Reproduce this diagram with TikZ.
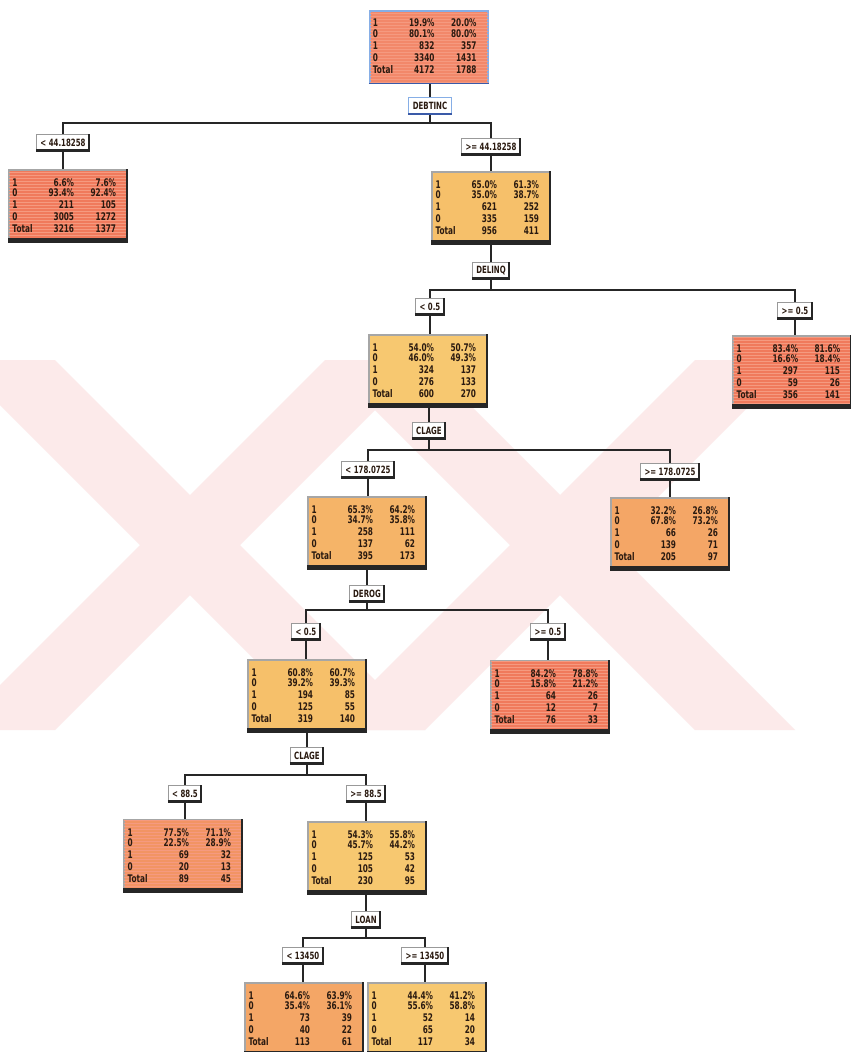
\documentclass[tikz,border=0pt]{standalone}
\usepackage{fontspec}
\newfontfamily\pix[FakeStretch=0.7]{DejaVu Sans}
\usetikzlibrary{patterns,calc}

\definecolor{ink}{HTML}{2A1A10}
\definecolor{wm}{HTML}{FCEAEA}
\definecolor{cRed}{HTML}{F07A5C}
\definecolor{cRedL}{HTML}{F59A80}
\definecolor{cSalmon}{HTML}{F2886A}
\definecolor{cOrRed}{HTML}{F29464}
\definecolor{cOrange}{HTML}{F4A666}
\definecolor{cAmber}{HTML}{F5B468}
\definecolor{cGold}{HTML}{F6C06A}
\definecolor{cYellow}{HTML}{F7C870}
\definecolor{frameBlue}{HTML}{86AEE6}
\definecolor{deepBlue}{HTML}{3A5AA8}

\tikzset{
  databox/.style={draw=black!35, line width=1.4pt, minimum width=118pt,
    minimum height=72pt, inner sep=0pt},
  striped/.style={postaction={pattern=horizontal lines, pattern color=cRedL}},
  splitlbl/.style={draw=black!40, fill=white, line width=0.8pt, inner xsep=4pt,
    inner ysep=0pt, minimum height=17pt, font=\pix\bfseries\fontsize{10}{11}\selectfont,
    text=ink},
  cell/.style={inner sep=0pt, font=\pix\bfseries\fontsize{10.5}{11}\selectfont, text=ink},
  conn/.style={draw=black!85, line width=2.4pt},
  boxshadow/.style={draw=black!85},
}

% one text row of a data box: node, tag, baseline depth, label, value 1, value 2
\newcommand\cellrow[6]{%
  \node[cell, anchor=base west] (#1-#2l) at ([xshift=4pt,yshift=-#3pt]#1.north west) {#4};
  \node[cell, anchor=base east] (#1-#2a) at ([xshift=66pt,yshift=-#3pt]#1.north west) {#5};
  \node[cell, anchor=base east] (#1-#2b) at ([xshift=108pt,yshift=-#3pt]#1.north west) {#6};}
\newcommand\pctrows[5]{%
  \cellrow{#1}{r1}{17}{1}{#2\%}{#3\%}%
  \cellrow{#1}{r2}{27.5}{0}{#4\%}{#5\%}}
\newcommand\cntrows[7]{%
  \cellrow{#1}{r3}{39.5}{1}{#2}{#3}%
  \cellrow{#1}{r4}{51.5}{0}{#4}{#5}%
  \cellrow{#1}{r5}{63.5}{Total}{#6}{#7}}
% bevel shadow along the bottom and right edge of a node
\newcommand\bevel[3]{%
  \draw[boxshadow, line width=#2] ([yshift=#2/2]#1.south west) -- ([yshift=#2/2]#1.south east);
  \draw[boxshadow, line width=#3] ([xshift=-#3/2]#1.south east) -- ([xshift=-#3/2]#1.north east);}

\begin{document}
\begin{tikzpicture}[x=1pt,y=-1pt]
\useasboundingbox (0,0) rectangle (851,1052);
\fill[white] (0,0) rectangle (851,1052);

% faint background watermark bands
\begin{scope}
  \clip (0,360) rectangle (851,732);
  \fill[wm] (-45,360) -- (55,360) -- (425,730) -- (325,730) -- cycle;
  \fill[wm] (325,360) -- (425,360) -- (55,730) -- (-45,730) -- cycle;
  \fill[wm] (325,360) -- (425,360) -- (795,730) -- (695,730) -- cycle;
  \fill[wm] (695,360) -- (795,360) -- (425,730) -- (325,730) -- cycle;
\end{scope}

% bar levels of the split connectors
\coordinate (bar1) at (0,123);
\coordinate (bar2) at (0,290);
\coordinate (bar3) at (0,450);
\coordinate (bar4) at (0,610);
\coordinate (bar5) at (0,775);
\coordinate (bar6) at (0,938);

% data boxes
\node[databox, draw=frameBlue, line width=2.5pt, fill=cSalmon, striped] (root) at (429,47) {};
\node[databox, fill=cRed, striped] (l1) at (68,206) {};
\node[databox, fill=cGold] (r1) at (491,208) {};
\node[databox, fill=cYellow] (d1) at (428,371) {};
\node[databox, fill=cRed, striped] (d2) at (792,372) {};
\node[databox, fill=cAmber] (c1) at (367,533) {};
\node[databox, fill=cOrange] (c2) at (670,534) {};
\node[databox, fill=cGold] (g1) at (307,696) {};
\node[databox, fill=cRed, striped] (g2) at (550,697) {};
\node[databox, fill=cOrRed, striped] (h1) at (183,856) {};
\node[databox, fill=cYellow] (h2) at (367,858) {};
\node[databox, fill=cOrange] (k1) at (304,1019) {};
\node[databox, fill=cYellow] (k2) at (427,1019) {};

% split labels
\node[splitlbl, draw=frameBlue, line width=1.2pt] (sDebt) at (430,106) {DEBTINC};
\node[splitlbl] (lDebtA) at (63,143) {< 44.18258};
\node[splitlbl] (lDebtB) at (491,147) {>= 44.18258};
\node[splitlbl] (sDel) at (491,271) {DELINQ};
\node[splitlbl] (lDelA) at (430,307) {< 0.5};
\node[splitlbl] (lDelB) at (795,311) {>= 0.5};
\node[splitlbl] (sClage) at (429,431) {CLAGE};
\node[splitlbl] (lClA) at (368,470) {< 178.0725};
\node[splitlbl] (lClB) at (670,472) {>= 178.0725};
\node[splitlbl] (sDerog) at (367,594) {DEROG};
\node[splitlbl] (lDerA) at (306,632) {< 0.5};
\node[splitlbl] (lDerB) at (548,632) {>= 0.5};
\node[splitlbl] (sClage2) at (307,756) {CLAGE};
\node[splitlbl] (lCl2A) at (185,794) {< 88.5};
\node[splitlbl] (lCl2B) at (366,794) {>= 88.5};
\node[splitlbl] (sLoan) at (366,920) {LOAN};
\node[splitlbl] (lLoanA) at (303,956) {< 13450};
\node[splitlbl] (lLoanB) at (425,956) {>= 13450};

% bevel shadows
\draw[deepBlue, line width=1.2pt] ([yshift=0.6pt]root.south west) -- ([yshift=0.6pt]root.south east);
\foreach \n in {l1,r1,d1,d2,c1,c2,g1,g2,h1,h2,k1,k2} {\bevel{\n}{4.5pt}{2pt}}
\draw[deepBlue, line width=2pt] ([yshift=1pt]sDebt.south west) -- ([yshift=1pt]sDebt.south east);
\foreach \n in {lDebtA,lDebtB,sDel,lDelA,lDelB,sClage,lClA,lClB,sDerog,lDerA,lDerB,
  sClage2,lCl2A,lCl2B,sLoan,lLoanA,lLoanB} {\bevel{\n}{2.6pt}{1.8pt}}

% connectors
\draw[conn] (sDebt.north |- root.south) -- (sDebt.north);
\draw[conn] (sDebt.south) -- (sDebt.south |- bar1) -| (lDebtA.north);
\draw[conn] (sDebt.south |- bar1) -| (lDebtB.north);
\draw[conn] (lDebtA.south) -- (lDebtA.south |- l1.north);
\draw[conn] (lDebtB.south) -- (lDebtB.south |- r1.north);
\draw[conn] (r1.south) -- (sDel.north);
\draw[conn] (sDel.south) -- (sDel.south |- bar2) -| (lDelA.north);
\draw[conn] (sDel.south |- bar2) -| (lDelB.north);
\draw[conn] (lDelA.south) -- (lDelA.south |- d1.north);
\draw[conn] (lDelB.south) -- (lDelB.south |- d2.north);
\draw[conn] (sClage.north |- d1.south) -- (sClage.north);
\draw[conn] (sClage.south) -- (sClage.south |- bar3) -| (lClA.north);
\draw[conn] (sClage.south |- bar3) -| (lClB.north);
\draw[conn] (lClA.south) -- (lClA.south |- c1.north);
\draw[conn] (lClB.south) -- (lClB.south |- c2.north);
\draw[conn] (c1.south) -- (sDerog.north);
\draw[conn] (sDerog.south) -- (sDerog.south |- bar4) -| (lDerA.north);
\draw[conn] (sDerog.south |- bar4) -| (lDerB.north);
\draw[conn] (lDerA.south) -- (lDerA.south |- g1.north);
\draw[conn] (lDerB.south) -- (lDerB.south |- g2.north);
\draw[conn] (g1.south) -- (sClage2.north);
\draw[conn] (sClage2.south) -- (sClage2.south |- bar5) -| (lCl2A.north);
\draw[conn] (sClage2.south |- bar5) -| (lCl2B.north);
\draw[conn] (lCl2A.south) -- (lCl2A.south |- h1.north);
\draw[conn] (lCl2B.south) -- (lCl2B.south |- h2.north);
\draw[conn] (sLoan.north |- h2.south) -- (sLoan.north);
\draw[conn] (sLoan.south) -- (sLoan.south |- bar6) -| (lLoanA.north);
\draw[conn] (sLoan.south |- bar6) -| (lLoanB.north);
\draw[conn] (lLoanA.south) -- (lLoanA.south |- k1.north);
\draw[conn] (lLoanB.south) -- (lLoanB.south |- k2.north);

% box contents
\pctrows{root}{19.9}{20.0}{80.1}{80.0}
\cntrows{root}{832}{357}{3340}{1431}{4172}{1788}
\pctrows{l1}{6.6}{7.6}{93.4}{92.4}
\cntrows{l1}{211}{105}{3005}{1272}{3216}{1377}
\pctrows{r1}{65.0}{61.3}{35.0}{38.7}
\cntrows{r1}{621}{252}{335}{159}{956}{411}
\pctrows{d1}{54.0}{50.7}{46.0}{49.3}
\cntrows{d1}{324}{137}{276}{133}{600}{270}
\pctrows{d2}{83.4}{81.6}{16.6}{18.4}
\cntrows{d2}{297}{115}{59}{26}{356}{141}
\pctrows{c1}{65.3}{64.2}{34.7}{35.8}
\cntrows{c1}{258}{111}{137}{62}{395}{173}
\pctrows{c2}{32.2}{26.8}{67.8}{73.2}
\cntrows{c2}{66}{26}{139}{71}{205}{97}
\pctrows{g1}{60.8}{60.7}{39.2}{39.3}
\cntrows{g1}{194}{85}{125}{55}{319}{140}
\pctrows{g2}{84.2}{78.8}{15.8}{21.2}
\cntrows{g2}{64}{26}{12}{7}{76}{33}
\pctrows{h1}{77.5}{71.1}{22.5}{28.9}
\cntrows{h1}{69}{32}{20}{13}{89}{45}
\pctrows{h2}{54.3}{55.8}{45.7}{44.2}
\cntrows{h2}{125}{53}{105}{42}{230}{95}
\pctrows{k1}{64.6}{63.9}{35.4}{36.1}
\cntrows{k1}{73}{39}{40}{22}{113}{61}
\pctrows{k2}{44.4}{41.2}{55.6}{58.8}
\cntrows{k2}{52}{14}{65}{20}{117}{34}
\end{tikzpicture}
\end{document}
